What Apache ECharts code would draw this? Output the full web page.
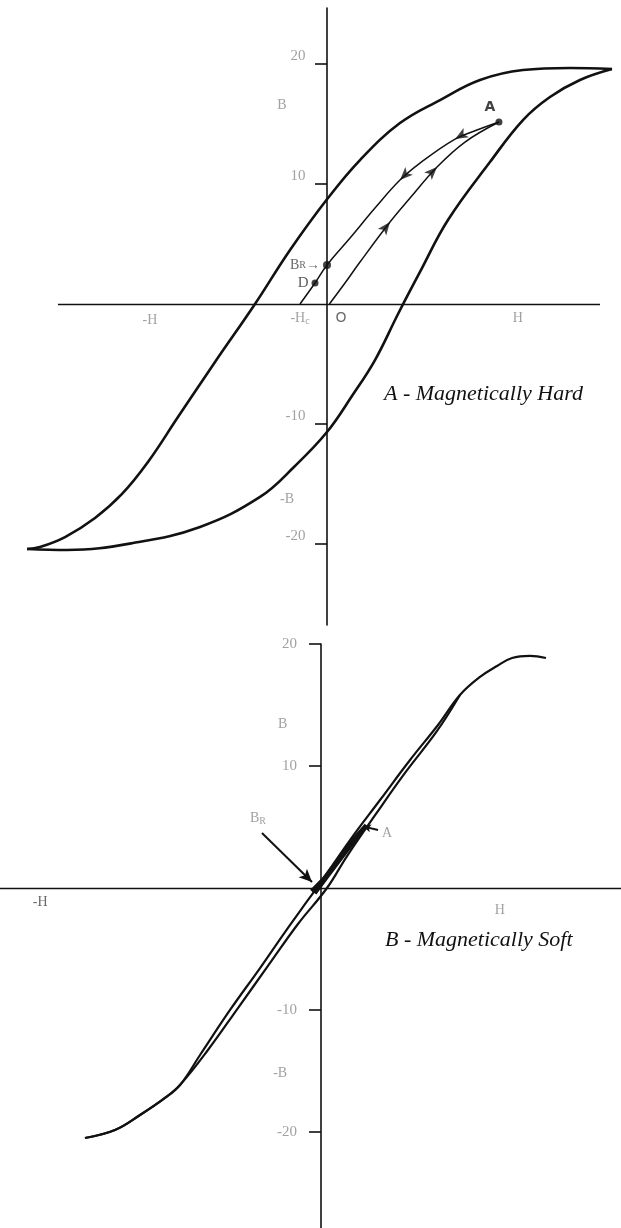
<!DOCTYPE html>
<html>
<head>
<meta charset="utf-8">
<script src="https://cdn.jsdelivr.net/npm/echarts@6/dist/echarts.min.js"></script>
<style>
  html, body { margin: 0; padding: 0; background: #fff; }
  #chart { width: 621px; height: 1228px; }
</style>
</head>
<body>
<div id="chart"></div>
<script>
// A - magnetically hard: outer loop, descending (upper) and ascending (lower) branch
var hardDescH = [23.75, 20.25, 16.33, 12.75, 9.42, 6.08, 2.75, 0.08, -3.08, -6.0, -9.33, -12.42, -14.92, -17.08, -19.33, -21.83, -23.92, -25];
var hardDescB = [19.58, 19.67, 19.5, 18.67, 17.0, 15.08, 12.0, 8.83, 4.5, 0, -4.83, -9.42, -13.17, -15.83, -17.83, -19.42, -20.25, -20.42];
var hardAscH = [-25, -21.67, -16.17, -10.58, -5.58, -2.67, 0, 2.08, 4.0, 5.92, 7.75, 10.08, 13.58, 16.33, 18.58, 21.08, 23.75];
var hardAscB = [-20.42, -20.5, -19.92, -18.58, -16.08, -13.5, -10.67, -7.67, -4.67, -0.83, 2.67, 7.0, 11.83, 15.33, 17.25, 18.67, 19.58];

// initial magnetisation O -> A and the return A -> Br -> D
var initH = [0.2, 1.5, 2.75, 5.25, 6.92, 9.17, 11.5, 14.33];
var initB = [0, 1.75, 3.5, 6.83, 8.83, 11.42, 13.5, 15.17];
var backH = [14.33, 12.5, 10.67, 7.75, 6.08, 4.0, 1.92, 0, -1, -2.25];
var backB = [15.17, 14.5, 13.75, 11.75, 10.33, 8.0, 5.5, 3.25, 1.75, 0];
var initArrowIdx = [3, 5];
var backArrowIdx = [2, 4];

// B - magnetically soft
var softDescH = [18.75, 17.42, 15.92, 14.67, 13.25, 11.58, 9.75, 7.42, 4.92, 2.42, 0, -1.08, -3.0, -5.08, -7.58, -10.08, -11.75, -13.0, -15.08, -17.17, -19.67];
var softDescB = [18.85, 19.02, 18.85, 18.2, 17.3, 15.82, 13.36, 10.49, 7.21, 3.93, 0.49, -0.98, -3.61, -6.56, -10.0, -13.69, -16.15, -17.21, -18.61, -19.84, -20.49];
var softAscH = [-19.67, -17.17, -15.08, -13.0, -11.75, -9.42, -6.92, -4.42, -1.92, 0.5, 2.17, 4.58, 7.0, 9.67, 11.58];
var softAscB = [-20.49, -19.84, -18.61, -17.21, -16.15, -13.28, -9.84, -6.39, -2.95, 0, 2.62, 6.07, 9.43, 12.87, 15.82];
var softMinorH = [-0.5, 0.6, 1.7, 2.8, 3.75, 2.6, 1.4, 0.2, -0.8];
var softMinorB = [-0.45, 1.0, 2.45, 3.85, 5.16, 3.9, 2.3, 0.75, -0.25];

var yTicks = [-20, -10, 10, 20];
// visible stretch of the top H axis
var hardAxisH = [-22.42, 22.75];

function zip(xs, ys) {
  return xs.map(function (x, i) { return [x, ys[i]]; });
}

// arrow heads sitting on a curve, pointing along it
function arrowMarks(xs, ys, idx) {
  return idx.map(function (i) {
    var ang = Math.atan2(ys[i + 1] - ys[i - 1], xs[i + 1] - xs[i - 1]) * 180 / Math.PI;
    return { value: [xs[i], ys[i]], symbolRotate: ang - 90 };
  });
}

var faint = '#8a8a8a';
var ink = '#111';
var serif = 'Liberation Serif';

function textSeries(xi, items) {
  return {
    type: 'scatter', xAxisIndex: xi, yAxisIndex: xi, symbolSize: 0, silent: true, clip: false,
    label: {
      show: true, position: 'inside', color: faint, fontFamily: serif, fontSize: 14,
      formatter: function (p) { return p.data.text; },
      rich: {
        s: { fontFamily: serif, fontSize: 10, color: faint, verticalAlign: 'bottom', padding: [6, 0, 0, 0] }
      }
    },
    data: items
  };
}

// B tick labels, drawn beside the axis that sits at H = 0
function tickLabels(xi, anchorH, dy) {
  return {
    type: 'scatter', xAxisIndex: xi, yAxisIndex: xi, symbolSize: 0, silent: true, clip: false,
    label: {
      show: true, position: 'left', distance: 0, offset: [0, dy], color: faint,
      fontFamily: serif, fontSize: 15, formatter: function (p) { return String(p.value[1]); }
    },
    data: yTicks.map(function (t) { return [anchorH, t]; })
  };
}

function curve(xi, xs, ys, w) {
  return {
    type: 'line', xAxisIndex: xi, yAxisIndex: xi, data: zip(xs, ys), smooth: 0.4,
    showSymbol: false, clip: false, silent: true,
    lineStyle: { color: ink, width: w }
  };
}

function yAxisOf(gi, min, max) {
  return {
    gridIndex: gi, type: 'value', min: min, max: max,
    axisLine: { onZero: true, lineStyle: { color: ink, width: 1.6 } },
    axisTick: { show: true, customValues: yTicks, length: 12, lineStyle: { color: ink, width: 1.6 } },
    axisLabel: { show: false },
    splitLine: { show: false }
  };
}

function xAxisOf(gi, min, max, showLine) {
  return {
    gridIndex: gi, type: 'value', min: min, max: max,
    axisLine: { show: showLine, onZero: true, lineStyle: { color: ink, width: 1.4 } },
    axisTick: { show: false }, axisLabel: { show: false }, splitLine: { show: false }
  };
}

var chart = echarts.init(document.getElementById('chart'));
chart.setOption({
  animation: false,
  backgroundColor: '#fff',
  title: [
    { text: 'A - Magnetically Hard', left: 384, top: 383, padding: 0,
      textStyle: { fontFamily: serif, fontStyle: 'italic', fontWeight: 'normal', fontSize: 22, color: ink } },
    { text: 'B - Magnetically Soft', left: 385, top: 929, padding: 0,
      textStyle: { fontFamily: serif, fontStyle: 'italic', fontWeight: 'normal', fontSize: 22, color: ink } }
  ],
  grid: [
    { left: 15, top: 8, width: 600, height: 617, outerBoundsMode: 'none' },
    { left: 0, top: 644, width: 621, height: 584, outerBoundsMode: 'none' }
  ],
  xAxis: [xAxisOf(0, -26.0, 24.0, false), xAxisOf(1, -26.75, 25, true)],
  yAxis: [yAxisOf(0, -26.75, 24.67), yAxisOf(1, -27.87, 20)],
  series: [
    {
      type: 'line', xAxisIndex: 0, yAxisIndex: 0, data: zip(hardDescH, hardDescB), smooth: 0.4,
      showSymbol: false, clip: false, silent: true, lineStyle: { color: ink, width: 2.6 },
      markLine: {
        silent: true, symbol: 'none', label: { show: false },
        lineStyle: { color: ink, width: 1.4, type: 'solid' },
        data: [[{ coord: [hardAxisH[0], 0] }, { coord: [hardAxisH[1], 0] }]]
      }
    },
    curve(0, hardAscH, hardAscB, 2.6),
    curve(0, initH, initB, 1.5),
    curve(0, backH, backB, 1.5),
    {
      type: 'scatter', xAxisIndex: 0, yAxisIndex: 0, symbol: 'arrow', symbolSize: [8, 13],
      itemStyle: { color: ink }, silent: true,
      data: arrowMarks(initH, initB, initArrowIdx).concat(arrowMarks(backH, backB, backArrowIdx))
    },
    {
      type: 'scatter', xAxisIndex: 0, yAxisIndex: 0, symbolSize: 7, itemStyle: { color: ink }, silent: true,
      data: [
        { value: [initH[initH.length - 1], initB[initB.length - 1]] },
        { value: [backH[7], backB[7]], symbolSize: 8,
          label: { show: true, position: 'left', distance: 3, color: '#444', fontFamily: serif, fontSize: 14,
            formatter: 'B{s|R}→', rich: { s: { fontSize: 10, fontFamily: serif, color: '#444' } } } },
        { value: [backH[8], backB[8]],
          label: { show: true, position: 'left', distance: 3, color: '#333', fontFamily: serif, fontSize: 15, formatter: 'D' } }
      ]
    },
    tickLabels(0, -1.8, -8),
    textSeries(0, [
      { value: [13.58, 16.4], text: 'A', label: { color: ink, fontFamily: 'DejaVu Sans', fontWeight: 'bold', fontSize: 14 } },
      { value: [-14.75, -1.33], text: '-H' },
      { value: [-2.25, -1.2], text: '-H{s|c}' },
      { value: [1.17, -1.2], text: 'O', label: { color: '#444', fontFamily: 'DejaVu Sans', fontSize: 14 } },
      { value: [15.9, -1.2], text: 'H' },
      { value: [-3.75, 16.6], text: 'B' },
      { value: [-3.33, -16.3], text: '-B' }
    ]),
    curve(1, softDescH, softDescB, 2.2),
    curve(1, softAscH, softAscB, 2.2),
    {
      type: 'line', xAxisIndex: 1, yAxisIndex: 1, data: zip(softMinorH, softMinorB),
      showSymbol: false, clip: false, silent: true, lineStyle: { color: ink, width: 3.5 },
      markLine: {
        silent: true, symbol: ['none', 'arrow'], symbolSize: [9, 13],
        lineStyle: { color: ink, width: 2, type: 'solid' }, label: { show: false },
        data: [
          [{ coord: [-4.92, 4.51] }, { coord: [-0.75, 0.49] }],
          [{ coord: [4.75, 4.75], symbolSize: [6, 8] }, { coord: [3.5, 5.05], symbolSize: [6, 8] }]
        ]
      }
    },
    tickLabels(1, -2.0, 0),
    textSeries(1, [
      { value: [-23.4, -1.15], text: '-H', label: { color: '#444' } },
      { value: [14.9, -1.8], text: 'H' },
      { value: [-3.2, 13.4], text: 'B' },
      { value: [-3.4, -15.2], text: '-B' },
      { value: [-5.25, 5.74], text: 'B{s|R}' },
      { value: [5.5, 4.5], text: 'A' }
    ])
  ]
});
</script>
</body>
</html>
